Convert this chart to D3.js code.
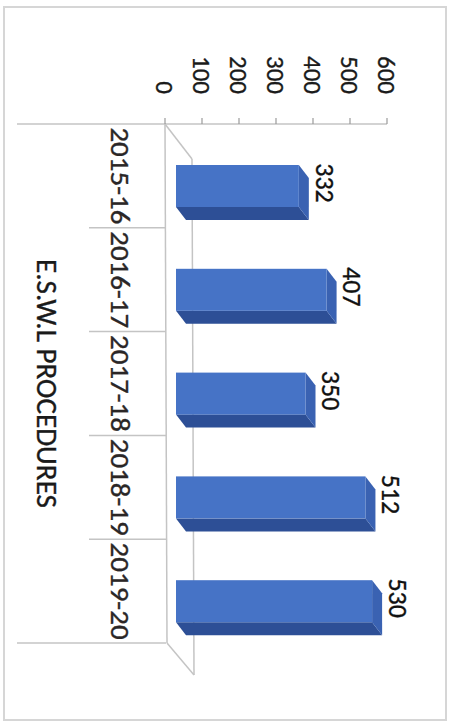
<!DOCTYPE html>
<html>
<head>
<meta charset="utf-8">
<script src="https://cdn.jsdelivr.net/npm/d3@7"></script>
<style>
  html, body { margin: 0; padding: 0; background: #fff; }
  svg { display: block; }
  text { paint-order: stroke; stroke-width: 0.35px; }
</style>
</head>
<body>
<svg id="chart" width="454" height="726"></svg>
<script>
// ---- data ----
const categories = ["2015-16", "2016-17", "2017-18", "2018-19", "2019-20"];
const values = [332, 407, 350, 512, 530];
const tickValues = [0, 100, 200, 300, 400, 500, 600];
const axisTitle = "E.S.W.L PROCEDURES";

// ---- layout (chart is drawn rotated 90° clockwise) ----
const svg = d3.select("#chart");
const FONT = "Carlito, Calibri, 'Liberation Sans', Arial, sans-serif";
const lineCol = "#c4c4c4";

const xs = d3.scaleLinear().domain([0, 600]).range([165, 387]);
const ys = d3.scaleBand().domain(categories).range([124, 643]).paddingInner(0).paddingOuter(0);

const depth = { dx: 27, dy: 35 };   // floor depth offset
const bar = { off: 11, top: 41, bottom: 83, ex: 10, ey: 13 };

// outer border
svg.append("rect")
  .attr("x", 4).attr("y", 7).attr("width", 442).attr("height", 713)
  .attr("fill", "none").attr("stroke", "#d6d6d6").attr("stroke-width", 2);

const g = svg.append("g");

// floor / back wall lines
const x0 = xs(0), yA = ys.range()[0], yB = ys.range()[1];
g.append("line").attr("x1", x0).attr("y1", yA).attr("x2", x0 + 2).attr("y2", yB)
  .attr("stroke", lineCol).attr("stroke-width", 1.5);
g.append("line").attr("x1", x0 + depth.dx).attr("y1", yA + depth.dy)
  .attr("x2", x0 + depth.dx + 2).attr("y2", yB + depth.dy - 3)
  .attr("stroke", lineCol).attr("stroke-width", 1.5);
g.append("line").attr("x1", x0).attr("y1", yA).attr("x2", x0 + depth.dx).attr("y2", yA + depth.dy)
  .attr("stroke", lineCol).attr("stroke-width", 1.5);
g.append("line").attr("x1", x0 + 2).attr("y1", yB).attr("x2", x0 + depth.dx + 2).attr("y2", yB + depth.dy - 3)
  .attr("stroke", lineCol).attr("stroke-width", 1.5);

// category boundary lines (multi-level style)
const bounds = categories.map(c => ys(c)).concat([yB]);
bounds.forEach((b, i) => {
  const outer = (i === 0 || i === bounds.length - 1);
  g.append("line")
    .attr("x1", outer ? 17 : 89).attr("x2", x0 + 1)
    .attr("y1", b).attr("y2", b)
    .attr("stroke", lineCol).attr("stroke-width", 1.5);
});

// value axis line + ticks
g.append("line").attr("x1", x0).attr("x2", xs(600)).attr("y1", yA).attr("y2", yA)
  .attr("stroke", lineCol).attr("stroke-width", 1.5);
g.selectAll(".tick").data(tickValues).enter().append("line")
  .attr("x1", d => xs(d)).attr("x2", d => xs(d))
  .attr("y1", yA - 6).attr("y2", yA)
  .attr("stroke", "#9a9a9a").attr("stroke-width", 1.2);

// tick labels (rotated)
g.selectAll(".tl").data(tickValues).enter().append("text")
  .attr("transform", d => `translate(${xs(d)},94) rotate(90)`)
  .attr("text-anchor", "end").attr("dy", "0.35em")
  .attr("font-family", FONT).attr("font-size", 25).attr("fill", "#1a1a1a").attr("stroke", "#1a1a1a")
  .text(d => d);

// bars (3D style)
const frontCol = "#4673c6", rightCol = "#3a62b2", bottomCol = "#2d4f96";
const bars = g.selectAll(".bar").data(categories.map((c, i) => ({ c, v: values[i] })))
  .enter().append("g");

bars.each(function(d) {
  const sel = d3.select(this);
  const xL = xs(0) + bar.off, xR = xs(d.v) + bar.off;
  const yT = ys(d.c) + bar.top, yBt = ys(d.c) + bar.bottom;
  // bottom face (column side)
  sel.append("polygon")
    .attr("points", [[xL, yBt], [xR, yBt], [xR + bar.ex, yBt + bar.ey], [xL + bar.ex, yBt + bar.ey]].join(" "))
    .attr("fill", bottomCol);
  // right face (column top)
  sel.append("polygon")
    .attr("points", [[xR, yT], [xR + bar.ex, yT + bar.ey], [xR + bar.ex, yBt + bar.ey], [xR, yBt]].join(" "))
    .attr("fill", rightCol);
  // front face
  sel.append("rect")
    .attr("x", xL).attr("y", yT).attr("width", xR - xL).attr("height", yBt - yT)
    .attr("fill", frontCol);
  // value label
  sel.append("text")
    .attr("transform", `translate(${xR + bar.ex + 16},${ys(d.c) + 59}) rotate(90)`)
    .attr("text-anchor", "middle").attr("dy", "0.35em")
    .attr("font-family", FONT).attr("font-size", 26).attr("fill", "#111").attr("stroke", "#111")
    .text(d.v);
});

// category labels
g.selectAll(".cl").data(categories).enter().append("text")
  .attr("transform", d => `translate(120,${ys(d) + ys.bandwidth() / 2}) rotate(90)`)
  .attr("text-anchor", "middle").attr("dy", "0.35em")
  .attr("font-family", FONT).attr("font-size", 27).attr("fill", "#2a2626").attr("stroke", "#2a2626")
  .attr("textLength", 97).attr("lengthAdjust", "spacingAndGlyphs")
  .text(d => d);

// axis title
g.append("text")
  .attr("transform", `translate(47.5,${(yA + yB) / 2}) rotate(90)`)
  .attr("text-anchor", "middle").attr("dy", "0.35em")
  .attr("font-family", FONT).attr("font-size", 29).attr("fill", "#1a1a1a").attr("stroke", "#1a1a1a")
  .attr("textLength", 249).attr("lengthAdjust", "spacingAndGlyphs")
  .text(axisTitle);
</script>
</body>
</html>
